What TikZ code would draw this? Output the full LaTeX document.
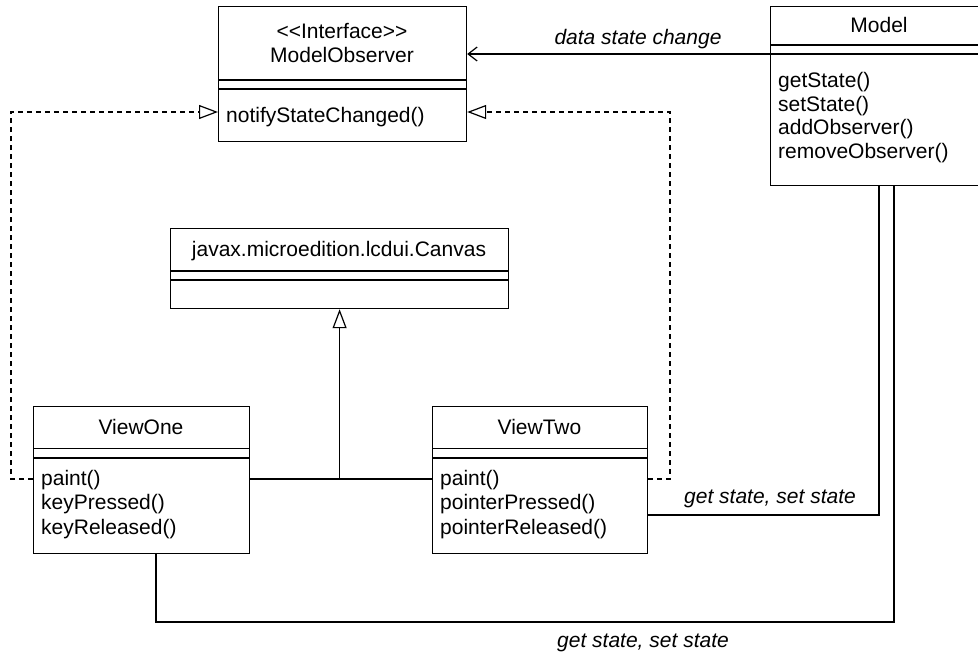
\documentclass[tikz,border=0pt]{standalone}
\usepackage{fontspec}
\newfontfamily\umlfont{Liberation Sans}
\usetikzlibrary{arrows.meta}
\begin{document}
\begin{tikzpicture}[x=1pt,y=-1pt,
  box/.style={draw, line width=1.2pt, inner sep=0pt, anchor=north west},
  txt/.style={inner sep=0pt, font=\umlfont\fontsize{21}{24}\selectfont},
  lbl/.style={inner sep=0pt, font=\umlfont\itshape\fontsize{21}{24}\selectfont},
  conn/.style={line width=1.2pt},
  dashline/.style={line width=1.2pt, dash pattern=on 5pt off 4pt},
  realize/.style={-{Triangle[open,length=19pt,width=14pt,fill=white]}},
  assoc/.style={-{Straight Barb[length=9pt,width=14pt]}}]
\clip (0,0) rectangle (978,653);
\fill[white] (0,0) rectangle (978,653);

% boxes
\node[box, minimum width=248, minimum height=135] (iface) at (218,6) {};
\node[box, minimum width=218, minimum height=179] (model) at (770,6) {};
\node[box, minimum width=338, minimum height=80] (canvas) at (170,228) {};
\node[box, minimum width=216, minimum height=147] (vone) at (33,406) {};
\node[box, minimum width=215, minimum height=147] (vtwo) at (432,406) {};

% compartment lines
\foreach \b/\o in {iface/74, iface/83, model/39, model/48, canvas/43, canvas/52, vone/42.5, vone/52, vtwo/42.5, vtwo/52}
  \draw[conn] ([yshift=-\o pt]\b.north west) -- ([yshift=-\o pt]\b.north east);

% texts
\node[txt, anchor=base] (ifstereo) at (342,38) {<\kern0pt<Interface>\kern0pt>};
\node[txt, anchor=base] (ifname) at (342,62) {ModelObserver};
\node[txt, anchor=base west] (ifm1) at (226,122) {notifyStateChanged()};

\node[txt, anchor=base] (mname) at (879,32) {Model};
\node[txt, anchor=base west] (mm1) at (778,87) {getState()};
\node[txt, anchor=base west] (mm2) at (778,111) {setState()};
\node[txt, anchor=base west] (mm3) at (778,134.5) {addObserver()};
\node[txt, anchor=base west] (mm4) at (778,158) {removeObserver()};

\node[txt, anchor=base] (cname) at (339,256) {javax.microedition.lcdui.Canvas};

\node[txt, anchor=base] (v1name) at (141,434) {ViewOne};
\node[txt, anchor=base west] (v1m1) at (41,485) {paint()};
\node[txt, anchor=base west] (v1m2) at (41,509.5) {keyPressed()};
\node[txt, anchor=base west] (v1m3) at (41,534) {keyReleased()};

\node[txt, anchor=base] (v2name) at (539.5,434) {ViewTwo};
\node[txt, anchor=base west] (v2m1) at (440,485) {paint()};
\node[txt, anchor=base west] (v2m2) at (440,509.5) {pointerPressed()};
\node[txt, anchor=base west] (v2m3) at (440,534) {pointerReleased()};

% helper coordinates
\coordinate (ydsc) at (0,54);
\coordinate (rowA) at (0,479);
\coordinate (rowD) at (0,112);
\coordinate (rowG) at (0,515);
\coordinate (rowB) at (0,622);
\coordinate (dl) at (11,0);
\coordinate (dr) at (670,0);
\coordinate (m1) at (879,0);
\coordinate (m2) at (894,0);
\coordinate (b1) at (156,0);

% connectors
\draw[conn, assoc] (model.west |- ydsc) -- (iface.east |- ydsc);
\node[lbl, anchor=base] (l1) at (638,45) {data state change};

\draw[conn] (vone.east |- rowA) -- (vtwo.west |- rowA);
\draw[conn, realize] (canvas.south |- rowA) -- (canvas.south);

\draw[dashline, realize] (vone.west |- rowA) -| (dl |- rowD) -- (iface.west |- rowD);
\draw[dashline, realize] (vtwo.east |- rowA) -| (dr |- rowD) -- (iface.east |- rowD);

\draw[conn] (m1 |- model.south) -- (m1 |- rowG) -- (vtwo.east |- rowG);
\node[lbl, anchor=base] (l2) at (770,503) {get state, set state};

\draw[conn] (m2 |- model.south) -- (m2 |- rowB) -- (b1 |- rowB) -- (b1 |- vone.south);
\node[lbl, anchor=base] (l3) at (643,647) {get state, set state};
\end{tikzpicture}
\end{document}
